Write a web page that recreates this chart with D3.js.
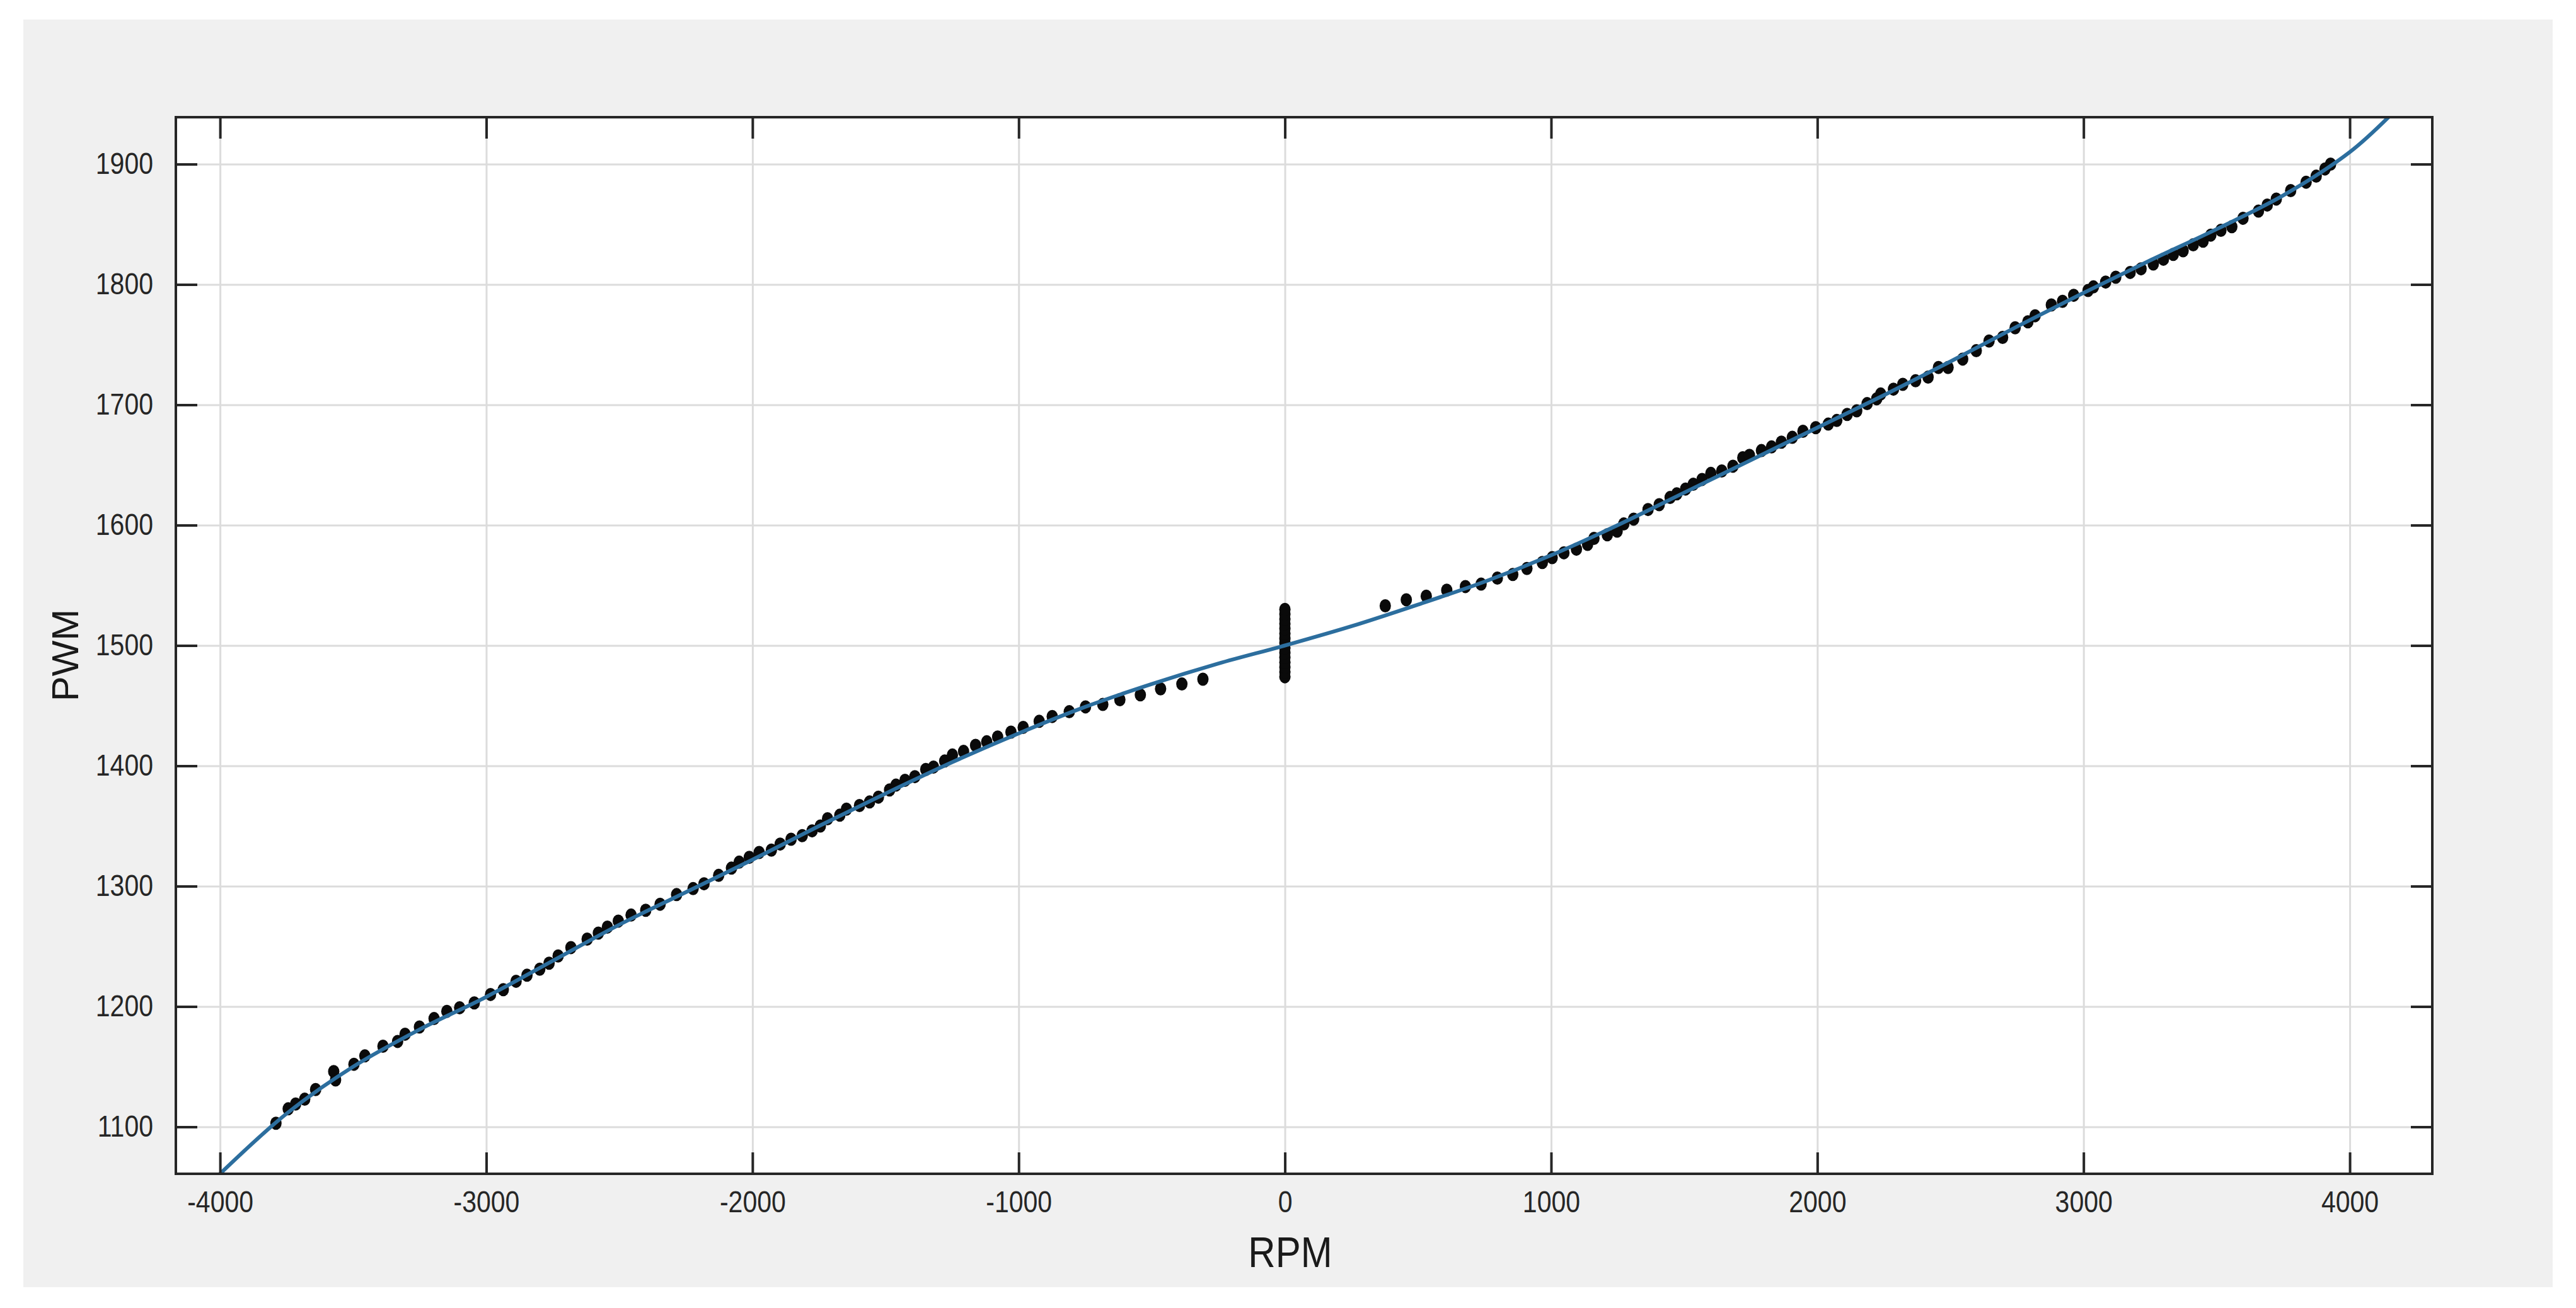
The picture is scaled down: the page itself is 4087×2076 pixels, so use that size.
<!DOCTYPE html>
<html>
<head>
<meta charset="utf-8">
<script src="https://cdn.jsdelivr.net/npm/d3@7"></script>
<style>
  html, body { margin: 0; padding: 0; background: #ffffff; }
  svg { display: block; }
  text { font-family: "Liberation Sans", Arial, Helvetica, sans-serif; }
  /* the source image is a little stretched vertically */
  .tall { transform-box: fill-box; transform-origin: center; transform: scaleY(1.15); }
</style>
</head>
<body>
<svg id="pwm-chart" width="4087" height="2076"></svg>
<script>
// measured samples, reverse direction (rpm, pwm)
const reverseSamples = [
  [-3790, 1103], [-3744, 1115], [-3716, 1119], [-3682, 1123], [-3641, 1131], [-3573, 1146],
  [-3566, 1139], [-3497, 1152], [-3456, 1159], [-3388, 1167], [-3333, 1171], [-3305, 1177],
  [-3251, 1183], [-3196, 1190], [-3148, 1196], [-3100, 1199], [-3045, 1203], [-2984, 1210],
  [-2936, 1214], [-2888, 1221], [-2847, 1226], [-2799, 1231], [-2764, 1236], [-2730, 1242],
  [-2682, 1249], [-2621, 1256], [-2579, 1261], [-2545, 1266], [-2504, 1271], [-2456, 1276],
  [-2401, 1280], [-2347, 1285], [-2285, 1293], [-2223, 1298], [-2182, 1302], [-2127, 1309],
  [-2079, 1315], [-2050, 1320], [-2012, 1324], [-1975, 1328], [-1929, 1330], [-1896, 1335],
  [-1855, 1339], [-1813, 1342], [-1776, 1346], [-1745, 1350], [-1718, 1356], [-1672, 1359],
  [-1647, 1364], [-1598, 1367], [-1560, 1370], [-1527, 1374], [-1485, 1380], [-1461, 1384],
  [-1427, 1388], [-1390, 1391], [-1349, 1397], [-1320, 1399], [-1278, 1404], [-1249, 1409],
  [-1207, 1412], [-1162, 1417], [-1120, 1420], [-1079, 1424], [-1029, 1428], [-983, 1432],
  [-923, 1437], [-874, 1441], [-810, 1445], [-749, 1449], [-684, 1451], [-620, 1455],
  [-543, 1459], [-467, 1464], [-387, 1468], [-308, 1472]
];

// samples taken with the motor stopped (rpm = 0)
const stallPwm = [1474, 1478, 1482, 1486, 1490, 1494, 1498, 1502, 1506, 1510, 1514, 1518, 1522, 1526, 1530];

// measured samples, forward direction (rpm, pwm)
const forwardSamples = [
  [377, 1533], [456, 1538], [531, 1541], [608, 1546], [678, 1549], [737, 1551],
  [798, 1556], [856, 1559], [909, 1564], [967, 1569], [1004, 1573], [1048, 1577],
  [1095, 1580], [1137, 1584], [1161, 1589], [1211, 1592], [1248, 1595], [1273, 1601],
  [1310, 1605], [1364, 1613], [1406, 1617], [1447, 1623], [1472, 1626], [1505, 1630],
  [1534, 1634], [1567, 1638], [1600, 1643], [1641, 1645], [1683, 1649], [1720, 1656],
  [1745, 1658], [1790, 1662], [1828, 1665], [1865, 1669], [1906, 1673], [1946, 1678],
  [1994, 1681], [2041, 1684], [2073, 1687], [2112, 1692], [2148, 1695], [2187, 1701],
  [2223, 1705], [2238, 1709], [2286, 1713], [2321, 1717], [2369, 1720], [2416, 1723],
  [2455, 1731], [2491, 1731], [2546, 1738], [2597, 1745], [2645, 1753], [2696, 1756],
  [2743, 1764], [2791, 1769], [2818, 1774], [2879, 1783], [2921, 1786], [2963, 1791],
  [3017, 1795], [3037, 1798], [3083, 1802], [3121, 1806], [3175, 1810], [3216, 1813],
  [3262, 1817], [3300, 1821], [3337, 1825], [3374, 1828], [3412, 1833], [3449, 1836],
  [3478, 1841], [3516, 1845], [3557, 1848], [3599, 1855], [3657, 1861], [3690, 1866],
  [3724, 1871], [3778, 1878], [3836, 1885], [3874, 1890], [3907, 1896], [3928, 1900]
];

// fitted curve, every 250 rpm
const fitCurve = [
  [-4000, 1061], [-3750, 1111], [-3500, 1150], [-3250, 1181], [-3000, 1208], [-2750, 1238],
  [-2500, 1268], [-2250, 1295], [-2000, 1322], [-1750, 1350], [-1500, 1377], [-1250, 1403],
  [-1000, 1427], [-750, 1449], [-500, 1468], [-250, 1485], [0, 1500], [250, 1516],
  [500, 1534], [750, 1553], [1000, 1575], [1250, 1600], [1500, 1627], [1750, 1654],
  [2000, 1681], [2250, 1708], [2500, 1736], [2750, 1765], [3000, 1793], [3250, 1820],
  [3500, 1846], [3750, 1874], [4000, 1910], [4150, 1940]
];

const xTicks = [-4000, -3000, -2000, -1000, 0, 1000, 2000, 3000, 4000];
const yTicks = [1100, 1200, 1300, 1400, 1500, 1600, 1700, 1800, 1900];

const svg = d3.select('#pwm-chart');
const DIMENSIONS = {
  left: 279,
  right: 3859,
  top: 186,
  bottom: 1863
};
DIMENSIONS.width = DIMENSIONS.right - DIMENSIONS.left;
DIMENSIONS.height = DIMENSIONS.bottom - DIMENSIONS.top;

const xScale = d3.scaleLinear()
  .domain([-4166, 4310])
  .range([DIMENSIONS.left, DIMENSIONS.right]);

const yScale = d3.scaleLinear()
  .domain([1061, 1939])
  .range([DIMENSIONS.bottom, DIMENSIONS.top]);

// plain labels, ascii minus, no thousands separator
const plainFormat = (d) => String(d);

// figure background (grey panel) and white axes area
svg.append('rect')
  .attr('x', 37).attr('y', 31)
  .attr('width', 4013).attr('height', 2012)
  .attr('fill', '#f0f0f0');

svg.append('rect')
  .attr('x', DIMENSIONS.left).attr('y', DIMENSIONS.top)
  .attr('width', DIMENSIONS.width).attr('height', DIMENSIONS.height)
  .attr('fill', '#ffffff');

svg.append('clipPath').attr('id', 'plot-clip')
  .append('rect')
  .attr('x', DIMENSIONS.left).attr('y', DIMENSIONS.top)
  .attr('width', DIMENSIONS.width).attr('height', DIMENSIONS.height);

// grid
const grid = svg.append('g').attr('id', 'grid');
grid.append('g')
  .attr('transform', `translate(0, ${DIMENSIONS.bottom})`)
  .call(d3.axisBottom(xScale).tickValues(xTicks).tickSize(-DIMENSIONS.height).tickFormat(''));
grid.append('g')
  .attr('transform', `translate(${DIMENSIONS.left}, 0)`)
  .call(d3.axisLeft(yScale).tickValues(yTicks).tickSize(-DIMENSIONS.width).tickFormat(''));
grid.selectAll('.domain').remove();
grid.selectAll('line')
  .attr('stroke', '#dcdcdc')
  .attr('stroke-width', 3);

// data points
const allSamples = reverseSamples
  .concat(stallPwm.map((p) => [0, p]))
  .concat(forwardSamples);

svg.append('g').attr('id', 'points')
  .selectAll('ellipse')
  .data(allSamples)
  .join('ellipse')
  .attr('cx', (d) => xScale(d[0]))
  .attr('cy', (d) => yScale(d[1]))
  .attr('rx', 9)
  .attr('ry', 10.5)
  .attr('fill', '#0a0a0a');

// fitted line
const lineGenerator = d3.line()
  .x((d) => xScale(d[0]))
  .y((d) => yScale(d[1]))
  .curve(d3.curveCatmullRom.alpha(0.5));

svg.append('g').attr('id', 'fit')
  .attr('clip-path', 'url(#plot-clip)')
  .append('path')
  .datum(fitCurve)
  .attr('d', lineGenerator)
  .attr('fill', 'none')
  .attr('stroke', '#2c6e9e')
  .attr('stroke-width', 6);

// axes with inward ticks on all four sides
const TICK = 34;
const axisColor = '#262626';

const xAxis = svg.append('g').attr('id', 'x-axis')
  .attr('transform', `translate(0, ${DIMENSIONS.bottom})`)
  .call(d3.axisBottom(xScale).tickValues(xTicks).tickFormat(plainFormat)
    .tickSize(-TICK).tickPadding(30).tickSizeOuter(0));
const yAxis = svg.append('g').attr('id', 'y-axis')
  .attr('transform', `translate(${DIMENSIONS.left}, 0)`)
  .call(d3.axisLeft(yScale).tickValues(yTicks).tickFormat(plainFormat)
    .tickSize(-TICK).tickPadding(36).tickSizeOuter(0));
const xTop = svg.append('g')
  .attr('transform', `translate(0, ${DIMENSIONS.top})`)
  .call(d3.axisTop(xScale).tickValues(xTicks).tickSize(-TICK).tickFormat('').tickSizeOuter(0));
const yRight = svg.append('g')
  .attr('transform', `translate(${DIMENSIONS.right}, 0)`)
  .call(d3.axisRight(yScale).tickValues(yTicks).tickSize(-TICK).tickFormat('').tickSizeOuter(0));

[xAxis, yAxis, xTop, yRight].forEach((ax) => {
  ax.selectAll('.domain').remove();
  ax.selectAll('line').attr('stroke', axisColor).attr('stroke-width', 4);
  ax.selectAll('text')
    .classed('tall', true)
    .attr('fill', '#262626')
    .style('font-size', '41px');
});

// box
svg.append('rect')
  .attr('x', DIMENSIONS.left).attr('y', DIMENSIONS.top)
  .attr('width', DIMENSIONS.width).attr('height', DIMENSIONS.height)
  .attr('fill', 'none')
  .attr('stroke', axisColor)
  .attr('stroke-width', 4);

// axis titles
svg.append('text')
  .text('RPM')
  .classed('tall', true)
  .attr('x', 2047)
  .attr('y', 2008)
  .attr('text-anchor', 'middle')
  .attr('fill', '#1a1a1a')
  .style('font-size', '60px');

svg.append('g')
  .attr('transform', 'translate(124, 1040) rotate(-90)')
  .append('text')
  .text('PWM')
  .attr('text-anchor', 'middle')
  .attr('fill', '#1a1a1a')
  .style('font-size', '60px')
  .style('transform-box', 'fill-box')
  .style('transform-origin', 'center')
  .style('transform', 'scaleX(1)');
</script>
</body>
</html>
